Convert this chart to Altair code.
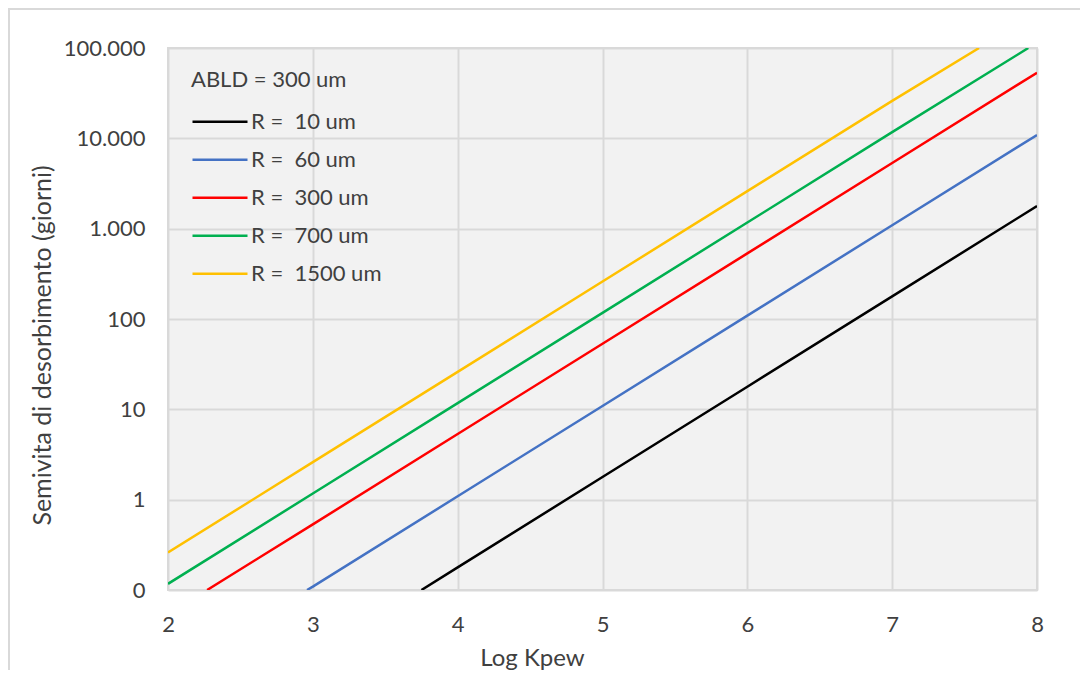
import altair as alt
import pandas as pd

# ---- data ----
series_labels = ["R =\u00a0 10 um", "R =\u00a0 60 um", "R =\u00a0 300 um",
                 "R =\u00a0 700 um", "R =\u00a0 1500 um"]
series_colors = ["#000000", "#4472C4", "#FF0000", "#00B050", "#FFC000"]

x_r10 = [3.75, 4, 5, 6, 7, 8]
y_r10 = [0.1, 0.178, 1.78, 17.8, 178, 1780]

x_r60 = [2.96, 3, 4, 5, 6, 7, 8]
y_r60 = [0.1, 0.109, 1.09, 10.9, 109, 1090, 10900]

x_r300 = [2.27, 3, 4, 5, 6, 7, 8]
y_r300 = [0.1, 0.533, 5.33, 53.3, 533, 5330, 53300]

x_r700 = [2, 3, 4, 5, 6, 7, 7.94]
y_r700 = [0.117, 1.17, 11.7, 117, 1170, 11700, 100000]

x_r1500 = [2, 3, 4, 5, 6, 7, 7.6]
y_r1500 = [0.26, 2.6, 26, 260, 2600, 26000, 100000]

x_ticks = [2, 3, 4, 5, 6, 7, 8]
y_ticks = [0.1, 1, 10, 100, 1000, 10000, 100000]
y_tick_labels = ["0", "1", "10", "100", "1.000", "10.000", "100.000"]

legend_title = "ABLD = 300 um"
x_title = "Log Kpew"
y_title = "Semivita di desorbimento (giorni)"

rows = []
for lab, xs, ys in zip(series_labels,
                       [x_r10, x_r60, x_r300, x_r700, x_r1500],
                       [y_r10, y_r60, y_r300, y_r700, y_r1500]):
    for i, (xv, yv) in enumerate(zip(xs, ys)):
        rows.append({"serie": lab, "kpew": xv, "t": yv, "ord": i})
df = pd.DataFrame(rows)

label_expr = ""
for v, l in zip(y_ticks, y_tick_labels):
    label_expr += f"datum.value == {v} ? '{l}' : "
label_expr += "''"

FONT = "Lato"
TXT = "#404040"
GRID = "#d9d9d9"

lines = alt.Chart(df).mark_line(strokeWidth=2.5, clip=True).encode(
    x=alt.X("kpew:Q",
            scale=alt.Scale(domain=[2, 8], nice=False, zero=False),
            axis=alt.Axis(values=x_ticks, format="d", title=x_title,
                          labelFontSize=22, labelColor=TXT, labelFont=FONT,
                          labelBaseline="alphabetic", labelPadding=41,
                          labelFlush=False,
                          ticks=False, domain=False,
                          grid=True, gridColor=GRID, gridWidth=2,
                          titleFont=FONT, titleFontSize=24, titleColor=TXT,
                          titleFontWeight="normal",
                          titleX=364, titleY=75, titleBaseline="alphabetic")),
    y=alt.Y("t:Q",
            scale=alt.Scale(type="log", domain=[0.1, 100000], nice=False),
            axis=alt.Axis(values=y_ticks, labelExpr=label_expr, title=y_title,
                          labelFontSize=22, labelColor=TXT, labelFont=FONT,
                          labelPadding=23, ticks=False, domain=False,
                          grid=True, gridColor=GRID, gridWidth=2,
                          titleFont=FONT, titleFontSize=25, titleColor=TXT,
                          titleFontWeight="normal",
                          titleX=-118, titleY=297, titleBaseline="alphabetic")),
    color=alt.Color("serie:N",
                    scale=alt.Scale(domain=series_labels, range=series_colors),
                    sort=series_labels,
                    legend=alt.Legend(orient="none", legendX=23, legendY=22,
                                      title=legend_title, titleFont=FONT,
                                      titleFontSize=22, titleFontWeight="normal",
                                      titleColor=TXT, titlePadding=11,
                                      labelFont=FONT, labelFontSize=22,
                                      labelColor=TXT, labelOffset=2,
                                      labelLimit=400, titleLimit=400,
                                      symbolType="stroke", symbolSize=3025,
                                      symbolStrokeWidth=2.5, rowPadding=0,
                                      clipHeight=37.6,
                                      padding=0)),
    order="ord:Q",
)

frame = alt.Chart(pd.DataFrame({"f": [0]})).mark_rect(
    fillOpacity=0, stroke="#d9d9d9", strokeWidth=2, clip=False
).encode(x=alt.value(-159), y=alt.value(-39),
         x2=alt.value(3000), y2=alt.value(3000))

chart = alt.layer(frame, lines).properties(
    width=869, height=542,
    autosize=alt.AutoSizeParams(type="none"),
    padding={"left": 160, "top": 40, "right": 43, "bottom": 80},
).configure(background="white", font=FONT).configure_view(
    stroke="#d9d9d9", strokeWidth=2, fill="#f2f2f2"
)

chart.save("out.html", embed_options={"renderer": "svg", "actions": False})
